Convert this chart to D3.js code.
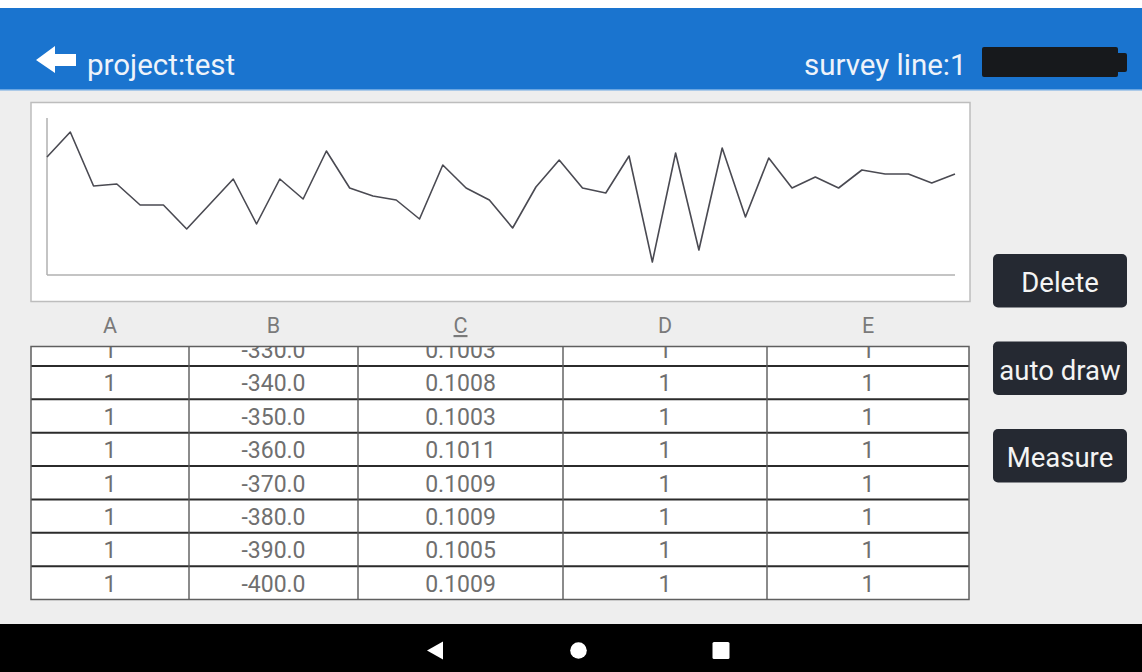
<!DOCTYPE html>
<html>
<head>
<meta charset="utf-8">
<script src="https://cdn.jsdelivr.net/npm/d3@7"></script>
<style>
  body { margin: 0; background: #fff; }
  svg { display: block; font-family: Roboto, "Noto Sans", sans-serif; }
</style>
</head>
<body>
<div id="app"></div>
<script>
var W = 1142, H = 672;

// readings drawn in the small chart (screen units of the app)
var chartValues = [118, 143, 89, 91, 70, 70, 46, 71, 96, 51,
                   96, 76, 124, 87, 79, 75, 56, 110, 87, 75,
                   47, 88, 115, 87, 82, 119, 13, 122, 25, 127,
                   58, 117, 87, 98, 87, 105, 101, 101, 92, 101];

// table
var columns = ["A", "B", "C", "D", "E"];
var colA = ["1", "1", "1", "1", "1", "1", "1", "1"];
var colB = ["-330.0", "-340.0", "-350.0", "-360.0", "-370.0", "-380.0", "-390.0", "-400.0"];
var colC = ["0.1003", "0.1008", "0.1003", "0.1011", "0.1009", "0.1009", "0.1005", "0.1009"];
var colD = ["1", "1", "1", "1", "1", "1", "1", "1"];
var colE = ["1", "1", "1", "1", "1", "1", "1", "1"];

var buttons = ["Delete", "auto draw", "Measure"];

var projectName = "project:test";
var surveyLine = "survey line:1";

var svg = d3.select("#app").append("svg")
    .attr("width", W)
    .attr("height", H);

// page background
svg.append("rect").attr("width", W).attr("height", H).attr("fill", "#eeeeee");
svg.append("rect").attr("width", W).attr("height", 8).attr("fill", "#ffffff");

// top bar
svg.append("rect").attr("x", 0).attr("y", 8).attr("width", W).attr("height", 82).attr("fill", "#1a74cf");
svg.append("rect").attr("x", 0).attr("y", 89).attr("width", W).attr("height", 1.5).attr("fill", "#6aa6e2");

// back arrow
svg.append("path")
    .attr("d", "M36,60 L55,46 L55,54 L76,54 L76,66 L55,66 L55,73 Z")
    .attr("fill", "#ffffff");

svg.append("text")
    .attr("x", 87).attr("y", 75)
    .attr("font-size", 29.5)
    .attr("fill", "#eef3fa")
    .text(projectName);

svg.append("text")
    .attr("x", 804).attr("y", 75)
    .attr("font-size", 29.5)
    .attr("fill", "#eef3fa")
    .text(surveyLine);

// redacted block
svg.append("rect").attr("x", 982).attr("y", 47).attr("width", 136).attr("height", 30).attr("rx", 2).attr("fill", "#17191c");
svg.append("rect").attr("x", 1115).attr("y", 53).attr("width", 12).attr("height", 19).attr("rx", 2).attr("fill", "#17191c");

// chart box
svg.append("rect")
    .attr("x", 31).attr("y", 102.5)
    .attr("width", 939).attr("height", 199)
    .attr("fill", "#ffffff")
    .attr("stroke", "#bdbdbd")
    .attr("stroke-width", 1.5);

var x = d3.scaleLinear().domain([0, chartValues.length - 1]).range([47, 955]);
var y = d3.scaleLinear().domain([0, 157]).range([275, 118]);

svg.append("line")
    .attr("x1", 47).attr("x2", 47).attr("y1", y.range()[1]).attr("y2", y.range()[0])
    .attr("stroke", "#b0b0b0").attr("stroke-width", 1.5);
svg.append("line")
    .attr("x1", x.range()[0]).attr("x2", x.range()[1]).attr("y1", 275).attr("y2", 275)
    .attr("stroke", "#b0b0b0").attr("stroke-width", 1.5);

var line = d3.line()
    .x(function(d, i) { return x(i); })
    .y(function(d) { return y(d); });

svg.append("path")
    .datum(chartValues)
    .attr("d", line)
    .attr("fill", "none")
    .attr("stroke", "#4a4a52")
    .attr("stroke-width", 1.6)
    .attr("stroke-linejoin", "round");

// table
var colEdges = [31, 189, 358, 563, 767, 969];
var tableTop = 346.5, tableBottom = 599.5;
var rowY = d3.scaleLinear().domain([0, colB.length]).range([332.6, 599.5]);

svg.selectAll(".col-head")
    .data(columns)
    .enter().append("text")
    .attr("class", "col-head")
    .attr("x", function(d, i) { return (colEdges[i] + colEdges[i + 1]) / 2; })
    .attr("y", 333)
    .attr("text-anchor", "middle")
    .attr("font-size", 21.5)
    .attr("fill", "#7a7a7a")
    .attr("text-decoration", function(d) { return d === "C" ? "underline" : null; })
    .text(function(d) { return d; });

svg.append("clipPath").attr("id", "tbl-clip")
    .append("rect")
    .attr("x", colEdges[0]).attr("y", tableTop)
    .attr("width", colEdges[5] - colEdges[0]).attr("height", tableBottom - tableTop);

var body = svg.append("g").attr("clip-path", "url(#tbl-clip)");

body.append("rect")
    .attr("x", colEdges[0]).attr("y", tableTop)
    .attr("width", colEdges[5] - colEdges[0]).attr("height", tableBottom - tableTop)
    .attr("fill", "#ffffff");

var rows = colB.map(function(b, i) { return [colA[i], b, colC[i], colD[i], colE[i]]; });

var rowG = body.selectAll(".row")
    .data(rows)
    .enter().append("g")
    .attr("class", "row")
    .attr("transform", function(d, i) { return "translate(0," + rowY(i) + ")"; });

rowG.selectAll("text")
    .data(function(d) { return d; })
    .enter().append("text")
    .attr("x", function(d, i) { return (colEdges[i] + colEdges[i + 1]) / 2; })
    .attr("y", 25.5)
    .attr("text-anchor", "middle")
    .attr("font-size", 23)
    .attr("fill", "#6f6f6f")
    .text(function(d) { return d; });

// horizontal row lines
body.selectAll(".hline")
    .data(d3.range(1, rows.length))
    .enter().append("line")
    .attr("x1", colEdges[0]).attr("x2", colEdges[5])
    .attr("y1", function(d) { return rowY(d); })
    .attr("y2", function(d) { return rowY(d); })
    .attr("stroke", "#2b2b2b")
    .attr("stroke-width", 2);

// vertical column lines
body.selectAll(".vline")
    .data(colEdges.slice(1, 5))
    .enter().append("line")
    .attr("x1", function(d) { return d; }).attr("x2", function(d) { return d; })
    .attr("y1", tableTop).attr("y2", tableBottom)
    .attr("stroke", "#5a5a5a")
    .attr("stroke-width", 1.4);

svg.append("rect")
    .attr("x", colEdges[0]).attr("y", tableTop)
    .attr("width", colEdges[5] - colEdges[0]).attr("height", tableBottom - tableTop)
    .attr("fill", "none")
    .attr("stroke", "#5f5f5f")
    .attr("stroke-width", 1.5);

// buttons
var btnY = d3.scaleLinear().domain([0, 1]).range([254, 341.5]);
var btn = svg.selectAll(".btn")
    .data(buttons)
    .enter().append("g")
    .attr("class", "btn")
    .attr("transform", function(d, i) { return "translate(993," + btnY(i) + ")"; });

btn.append("rect")
    .attr("width", 134).attr("height", 53.5)
    .attr("rx", 5)
    .attr("fill", "#252932");

btn.append("text")
    .attr("x", 67).attr("y", 38)
    .attr("text-anchor", "middle")
    .attr("font-size", 27.5)
    .attr("fill", "#f4f4f4")
    .text(function(d) { return d; });

// bottom navigation bar
svg.append("rect").attr("x", 0).attr("y", 624).attr("width", W).attr("height", 48).attr("fill", "#000000");
svg.append("path").attr("d", "M427,650.5 L443,641.5 L443,659.5 Z").attr("fill", "#ffffff");
svg.append("circle").attr("cx", 578.5).attr("cy", 650.5).attr("r", 8.3).attr("fill", "#ffffff");
svg.append("rect").attr("x", 712.5).attr("y", 642).attr("width", 17).attr("height", 17).attr("rx", 1.5).attr("fill", "#ffffff");
</script>
</body>
</html>
